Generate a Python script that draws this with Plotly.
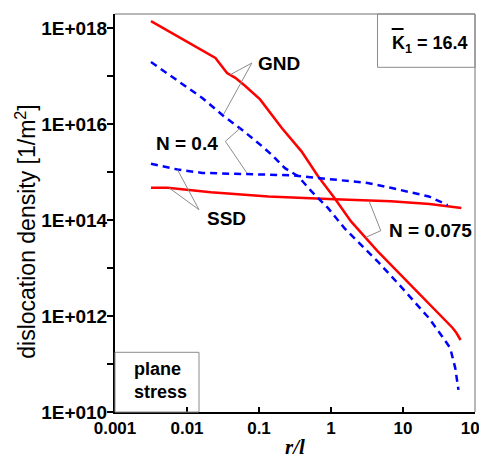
import plotly.graph_objects as go

# ---- data ----
r_gnd_n075 = [0.00316, 0.0248, 0.0360, 0.0469, 0.0644, 0.1035, 0.206, 0.389, 0.661, 1.117,
              1.897, 4.43, 6.75, 49.0, 55.0, 63.1]
rho_gnd_n075 = [1.38e18, 2.37e17, 1.15e17, 9.12e16, 6.17e16, 3.24e16, 8.32e15, 2.69e15, 8.13e14, 2.88e14,
                9.33e13, 2.24e13, 1.17e13, 5.62e11, 4.47e11, 3.16e11]

r_gnd_n04 = [0.00316, 0.0163, 0.0324, 0.0579, 0.1094, 0.150, 0.229, 0.350, 0.533, 0.906,
             1.535, 2.61, 4.43, 9.77, 22.8, 34.8, 45.3, 53.1, 58.9]
rho_gnd_n04 = [1.95e17, 3.47e16, 1.45e16, 7.59e15, 3.47e15, 2.29e15, 1.20e15, 8.13e14, 3.98e14, 1.78e14,
               6.76e13, 3.09e13, 1.38e13, 3.80e12, 9.12e11, 3.80e11, 2.14e11, 8.32e10, 2.88e10]

r_ssd_n04 = [0.00316, 0.00741, 0.0163, 0.0679, 0.283, 0.661, 1.535, 3.22, 6.75, 22.8, 41.7]
rho_ssd_n04 = [1.48e15, 1.12e15, 9.55e14, 9.12e14, 8.51e14, 7.50e14, 6.61e14, 5.89e14, 4.68e14, 3.09e14, 2.04e14]

r_ssd_n075 = [0.00316, 0.00537, 0.0214, 0.135, 1.122, 6.76, 23.4, 64.6]
rho_ssd_n075 = [4.68e14, 4.68e14, 3.80e14, 3.09e14, 2.69e14, 2.45e14, 2.14e14, 1.78e14]

x_tickvals = [0.001, 0.01, 0.1, 1, 10, 100]
x_ticktext = ["0.001", "0.01", "0.1", "1", "10", "100"]
y_tickvals = [1e10, 1e12, 1e14, 1e16, 1e18]
y_ticktext = ["1E+010", "1E+012", "1E+014", "1E+016", "1E+018"]
y_minor_tickvals = [1e11, 1e13, 1e15, 1e17]

# ---- layout geometry ----
W, H = 487, 459
L, R, T, B = 107, 17, 6, 55
PW, PH = W - L - R, H - T - B


def px(x):
    return (x - L) / PW


def py(y):
    return (H - B - y) / PH


RED = "#ff0000"
BLUE = "#0000ff"
GRAY = "#8c8c8c"
DASH = "7px,5px"

fig = go.Figure()
fig.add_trace(go.Scatter(x=r_gnd_n075, y=rho_gnd_n075, mode="lines",
                         line=dict(color=RED, width=2.5), showlegend=False))
fig.add_trace(go.Scatter(x=r_ssd_n075, y=rho_ssd_n075, mode="lines",
                         line=dict(color=RED, width=2.5), showlegend=False))
fig.add_trace(go.Scatter(x=r_gnd_n04, y=rho_gnd_n04, mode="lines",
                         line=dict(color=BLUE, width=2.5, dash=DASH), showlegend=False))
fig.add_trace(go.Scatter(x=r_ssd_n04, y=rho_ssd_n04, mode="lines",
                         line=dict(color=BLUE, width=2.5, dash=DASH), showlegend=False))

shapes = []


def seg(p, q):
    shapes.append(dict(type="line", xref="paper", yref="paper",
                       x0=px(p[0]), y0=py(p[1]), x1=px(q[0]), y1=py(q[1]),
                       line=dict(color=GRAY, width=1)))


# leader lines
seg((245, 55), (223.3, 66.7))
seg((245, 55), (216.7, 106))
seg((232.7, 120.7), (218.3, 133.3))
seg((218.3, 133.3), (240, 165))
seg((191.7, 201.7), (170, 161.7))
seg((191.7, 201.7), (161.7, 180))
seg((363.3, 193.3), (375, 222.7))
seg((375, 222.7), (360, 229.3))

# frame (top/right) in gray
shapes.append(dict(type="line", xref="paper", yref="paper", x0=0, x1=1, y0=1, y1=1,
                   line=dict(color="#a0a0a0", width=1.5)))
shapes.append(dict(type="line", xref="paper", yref="paper", x0=1, x1=1, y0=0, y1=1,
                   line=dict(color="#a0a0a0", width=1.5)))
# boxes
shapes.append(dict(type="rect", xref="paper", yref="paper",
                   x0=px(371.7), x1=1, y0=py(59.3), y1=1,
                   line=dict(color=GRAY, width=1)))
shapes.append(dict(type="rect", xref="paper", yref="paper",
                   x0=0, x1=px(191.7), y0=0, y1=py(344.3),
                   line=dict(color=GRAY, width=1)))
# overline on K
shapes.append(dict(type="line", xref="paper", yref="paper",
                   x0=px(386), x1=px(398), y0=py(21), y1=py(21),
                   line=dict(color="black", width=2)))

FONT = "Liberation Sans, Arial, sans-serif"


def label(text, x, y, size=19, xanchor="center"):
    return dict(text=text, xref="paper", yref="paper", x=px(x), y=py(y),
                xanchor=xanchor, yanchor="middle", showarrow=False,
                font=dict(family=FONT, size=size, color="black"))


annotations = [
    label("<b>GND</b>", 272, 55),
    label("<b>N = 0.4</b>", 180, 135),
    label("<b>SSD</b>", 219, 210),
    label("<b>N = 0.075</b>", 425, 222),
    label("<b>K<sub>1</sub> = 16.4</b>", 384, 36, size=18, xanchor="left"),
    dict(text="<b>plane<br>stress</b>", xref="paper", yref="paper", x=px(124), y=py(372),
         xanchor="left", yanchor="middle", align="left", showarrow=False,
         font=dict(family=FONT, size=18, color="black")),
    # y-axis title
    dict(text="dislocation density [1/m<sup>2</sup>]", xref="paper", yref="paper",
         x=px(17), y=py(224), xanchor="center", yanchor="middle", textangle=-90,
         showarrow=False, font=dict(family=FONT, size=23, color="black")),
]

fig.update_layout(
    width=W, height=H,
    margin=dict(l=L, r=R, t=T, b=B, pad=0),
    paper_bgcolor="white", plot_bgcolor="white",
    shapes=shapes, annotations=annotations,
    showlegend=False,
    xaxis=dict(type="log", range=[-3, 2], showgrid=False, zeroline=False,
               showline=True, linecolor="black", linewidth=2,
               ticks="inside", ticklen=5, tickwidth=2, tickcolor="black",
               tickvals=x_tickvals, ticktext=x_ticktext,
               tickfont=dict(family=FONT, size=17, color="black", weight="bold"),
               title=dict(text="<b><i>r/l</i></b>", standoff=2,
                          font=dict(family="Liberation Serif, Times New Roman, serif", size=21, color="black"))),
    yaxis=dict(type="log", range=[10, 18.29], showgrid=False, zeroline=False,
               showline=True, linecolor="black", linewidth=2,
               ticks="outside", ticklen=6, tickwidth=2, tickcolor="black",
               ticklabelstandoff=-4,
               tickvals=y_tickvals, ticktext=y_ticktext,
               minor=dict(tickmode="array", tickvals=y_minor_tickvals, ticks="outside",
                          ticklen=6, tickwidth=2, tickcolor="black", showgrid=False),
               tickfont=dict(family=FONT, size=19, color="black", weight="bold")),
)

fig.write_html("out.html")
